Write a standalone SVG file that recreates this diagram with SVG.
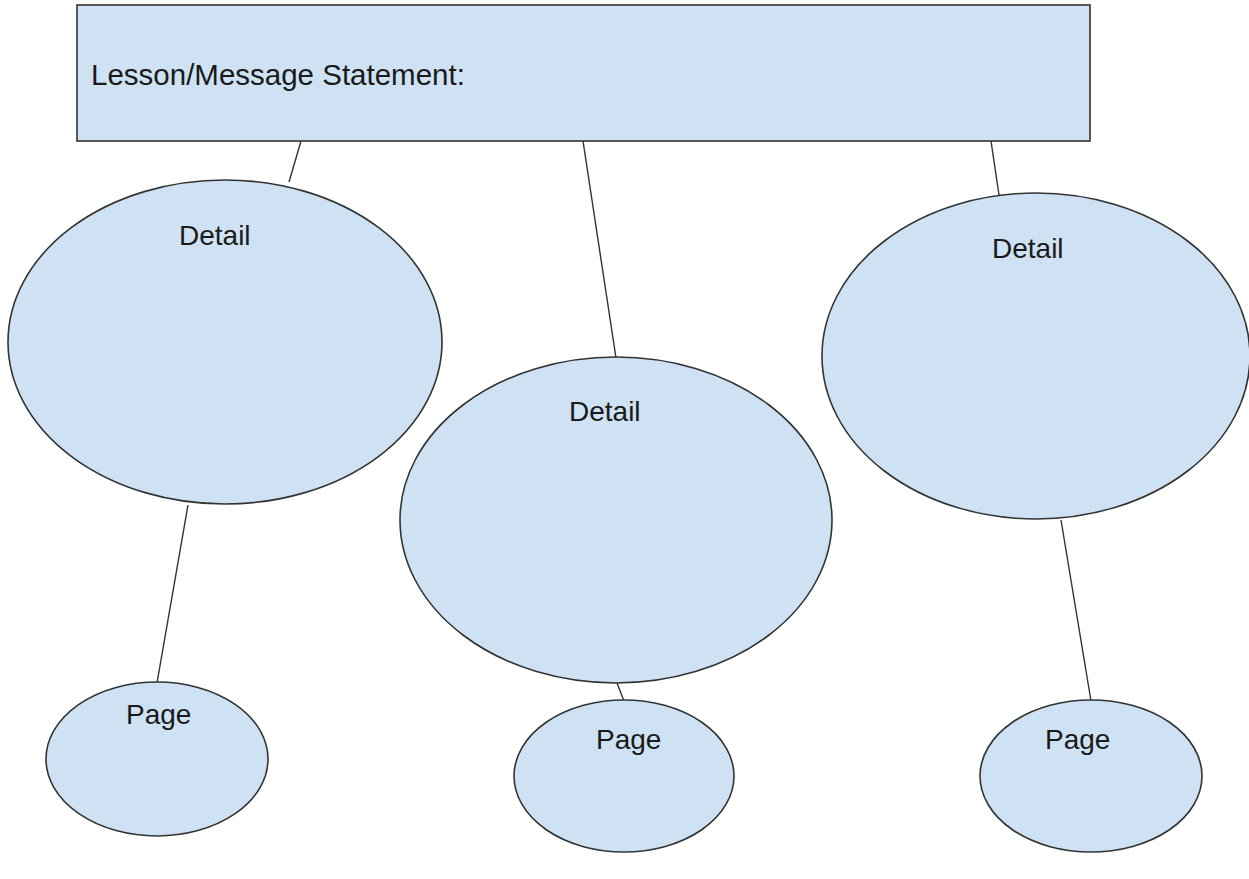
<svg xmlns="http://www.w3.org/2000/svg" width="1249" height="879" viewBox="0 0 1249 879">
<style>
.shape{fill:#cfe2f3;stroke:#333;stroke-width:1.6}
.conn line{stroke:#333;stroke-width:1.4}
text{font-family:"Liberation Sans",Arial,sans-serif;font-size:28px;fill:#1a1a1a}
.title{font-size:29.5px}
</style>
<rect width="1249" height="879" fill="#fff"/>
<g class="conn" id="connectors">
<line x1="301" y1="141" x2="289" y2="182"/>
<line x1="583" y1="141" x2="616" y2="358"/>
<line x1="991" y1="141" x2="999" y2="195"/>
<line x1="188" y1="505" x2="157" y2="683"/>
<line x1="617" y1="683" x2="624" y2="701"/>
<line x1="1061" y1="520" x2="1091" y2="701"/>
</g>
<g id="statement">
<rect class="shape" x="77" y="5" width="1013" height="136"/>
<text class="title" x="91" y="85">Lesson/Message Statement:</text>
</g>
<g id="detail-left">
<ellipse class="shape" cx="225" cy="342" rx="217" ry="162"/>
<text x="179" y="245">Detail</text>
</g>
<g id="detail-middle">
<ellipse class="shape" cx="616" cy="520" rx="216" ry="163"/>
<text x="569" y="421">Detail</text>
</g>
<g id="detail-right">
<ellipse class="shape" cx="1036" cy="356" rx="214" ry="163"/>
<text x="992" y="258">Detail</text>
</g>
<g id="page-left">
<ellipse class="shape" cx="157" cy="759" rx="111" ry="77"/>
<text x="126" y="724">Page</text>
</g>
<g id="page-middle">
<ellipse class="shape" cx="624" cy="776" rx="110" ry="76"/>
<text x="596" y="749">Page</text>
</g>
<g id="page-right">
<ellipse class="shape" cx="1091" cy="776" rx="111" ry="76"/>
<text x="1045" y="749">Page</text>
</g>
</svg>
